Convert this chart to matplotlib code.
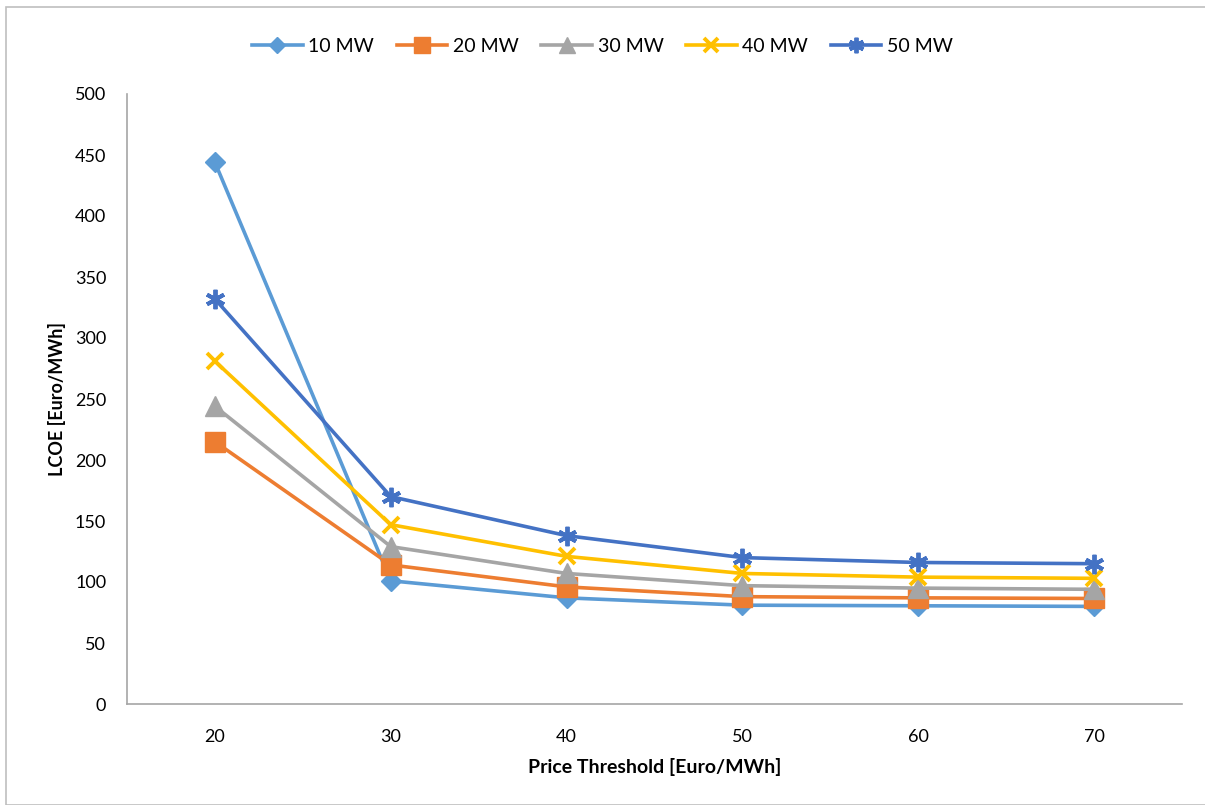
import matplotlib
matplotlib.use("Agg")
import matplotlib.pyplot as plt
from matplotlib.patches import Rectangle

thresholds = ["20", "30", "40", "50", "60", "70"]
series_names = ["10 MW", "20 MW", "30 MW", "40 MW", "50 MW"]
lcoe_10 = [444, 101, 87, 81, 80.5, 80]
lcoe_20 = [215, 114, 96, 88, 87, 86.5]
lcoe_30 = [244, 129, 107, 97, 95, 94]
lcoe_40 = [281, 147, 121, 107, 104, 103]
lcoe_50 = [332, 170, 138, 120, 116, 115]

colors = ["#5B9BD5", "#ED7D31", "#A5A5A5", "#FFC000", "#4472C4"]
markers = ["D", "s", "^", "x", (6, 2, 0)]
msizes = [10, 14, 14, 12, 14]

plt.rcParams['font.family'] = ['Lato', 'DejaVu Sans']

fig = plt.figure(figsize=(12.05, 8.05), dpi=100)
ax = fig.add_axes([127 / 1205, 1 - 704 / 805, (1182 - 127) / 1205, (704 - 94) / 805])

xs = list(range(len(thresholds)))
all_series = [lcoe_10, lcoe_20, lcoe_30, lcoe_40, lcoe_50]
for name, vals, c, m, ms in zip(series_names, all_series, colors, markers, msizes):
    mew = 2.8 if m in ("x", (6, 2, 0)) else 1
    ax.plot(xs, vals, color=c, lw=2.6, marker=m, markersize=ms,
            markeredgewidth=mew, markeredgecolor=c, label=name)

ax.set_xlim(-0.5, len(thresholds) - 0.5)
ax.set_ylim(0, 500)
ax.set_yticks(range(0, 501, 50))
ax.set_xticks(xs)
ax.set_xticklabels(thresholds)
ax.tick_params(length=0, labelsize=13)
ax.tick_params(axis='x', pad=18)
ax.tick_params(axis='y', pad=15)

for s in ["top", "right"]:
    ax.spines[s].set_visible(False)
for s in ["left", "bottom"]:
    ax.spines[s].set_color("#A6A6A6")
    ax.spines[s].set_linewidth(1.2)

ax.set_xlabel("Price Threshold [Euro/MWh]", fontsize=14, fontweight="bold", labelpad=9)
ax.set_ylabel("LCOE [Euro/MWh]", fontsize=13, fontweight="bold", labelpad=6)

fig.legend(loc="upper center", bbox_to_anchor=(0.5, 0.975), ncol=5, frameon=False,
           fontsize=14, handlelength=2.6, handletextpad=0.3, columnspacing=1.15,
           markerscale=0.8)

fig.patches.append(Rectangle((6 / 1205, 0.0), 1.2, 1 - 7 / 805, transform=fig.transFigure,
                             fill=False, edgecolor="#BFBFBF", lw=1.2))

fig.savefig("out.png", dpi=100)
